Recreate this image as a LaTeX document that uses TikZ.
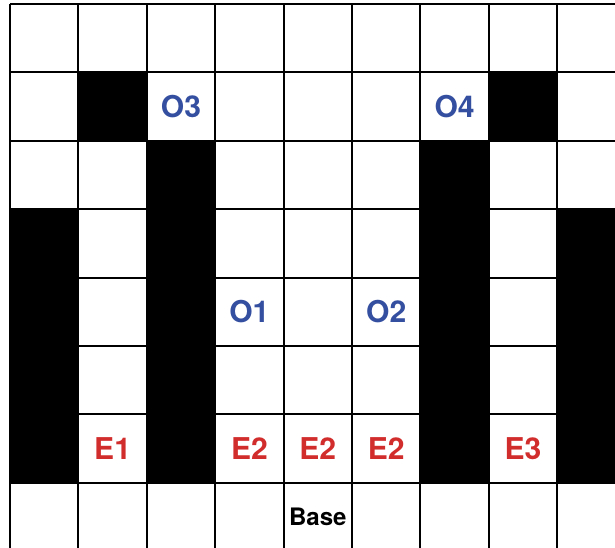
\documentclass[tikz,border=0pt]{standalone}
\usepackage{fontspec}
\setmainfont{TeX Gyre Heros}
\usepackage{tikz}
\usetikzlibrary{positioning}
\definecolor{oblue}{RGB}{52,78,160}
\definecolor{ered}{RGB}{210,45,45}

\begin{document}
\begin{tikzpicture}[
    scale=1.2,
    grid_line/.style={line width=1pt, draw=black},
    wall/.style={fill=black, draw=black, line width=1pt},
    o_label/.style={text=oblue, font=\bfseries\fontsize{15}{17}\selectfont},
    e_label/.style={text=ered, font=\bfseries\fontsize{15}{17}\selectfont},
    base_label/.style={font=\bfseries\fontsize{12}{14}\selectfont}
]

% Frame
\useasboundingbox (-0.146,0.047) rectangle (8.845,8.058);
\clip (-0.146,0.047) rectangle (8.845,8.058);

% Grid
\draw [grid_line] (0,-1) grid (10,8);

% Walls
\draw [wall] (1,6) rectangle (2,7);
\draw [wall] (7,6) rectangle (8,7);
\draw [wall] (2,1) rectangle (3,6);
\draw [wall] (6,1) rectangle (7,6);
\draw [wall] (0,1) rectangle (1,5);
\draw [wall] (8,1) rectangle (9,5);

% Labels
\node [o_label] (o3) at (2.5,6.5) {O3};
\node [o_label] (o4) at (6.5,6.5) {O4};
\node [o_label] (o1) at (3.5,3.5) {O1};
\node [o_label] (o2) at (5.5,3.5) {O2};
\node [e_label] (e1) at (1.5,1.5) {E1};
\foreach \c/\nm in {3/a, 4/b, 5/c}
    \node [e_label] (e2\nm) at (\c+0.5,1.5) {E2};
\node [e_label] (e3) at (7.5,1.5) {E3};
\node [base_label] (base) at (4.5,0.5) {Base};

\end{tikzpicture}
\end{document}
